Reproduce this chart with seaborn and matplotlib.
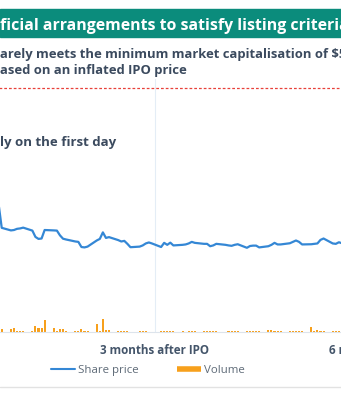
import matplotlib
matplotlib.use("Agg")
import matplotlib.pyplot as plt
from matplotlib.lines import Line2D
from matplotlib.patches import Rectangle
import seaborn as sns

# Calendar days counted from the listing day (day 0 = IPO, a Wednesday); weekends skipped
trade_days = [0, 1, 2,
              5, 6, 7, 8, 9, 12, 13, 14, 15, 16, 19, 20, 21, 22, 23,
              26, 27, 28, 29, 30, 33, 34, 35, 36, 37, 40, 41, 42, 43, 44,
              47, 48, 49, 50, 51, 54, 55, 56, 57, 58, 61, 62, 63, 64, 65,
              68, 69, 70, 71, 72, 75, 76, 77, 78, 79, 82, 83, 84, 85, 86,
              89, 90, 91, 92, 93, 96, 97, 98, 99, 100, 103, 104, 105, 106, 107,
              110, 111, 112, 113, 114, 117, 118, 119, 120, 121]

share_price = [1.050, 0.645, 0.527,
               0.514, 0.516, 0.522, 0.524, 0.528, 0.513, 0.481, 0.471, 0.473, 0.516,
               0.514, 0.513, 0.489, 0.472, 0.468,
               0.458, 0.456, 0.430, 0.428, 0.432, 0.463, 0.471, 0.504, 0.476, 0.480,
               0.465, 0.458, 0.461, 0.446, 0.429,
               0.432, 0.438, 0.448, 0.453, 0.448, 0.430, 0.451, 0.441, 0.452, 0.438,
               0.441, 0.443, 0.448, 0.456, 0.451,
               0.446, 0.446, 0.434, 0.438, 0.446, 0.441, 0.438, 0.436, 0.441, 0.444,
               0.426, 0.435, 0.437, 0.437, 0.428,
               0.434, 0.441, 0.451, 0.443, 0.443, 0.449, 0.456, 0.463, 0.456, 0.443,
               0.444, 0.446, 0.448, 0.466, 0.473,
               0.448, 0.446, 0.454, 0.449, 0.451, 0.447, 0.452, 0.449, 0.446, 0.450]

# Daily turnover, millions of shares
volume = [58.0, 1.3, 1.3,
          1.4, 2.2, 0.4, 0.4, 0.4, 0.5, 3.0, 2.2, 2.2, 6.1,
          1.9, 0.35, 1.7, 1.4, 0.5,
          0.35, 0.5, 1.4, 0.65, 0.5, 4.1, 0.65, 6.6, 1.0, 1.0,
          0.65, 0.35, 0.5, 0.35, 0.25,
          0.35, 0.35, 0.35, 0.15, 0.15, 0.35, 0.35, 0.35, 0.35, 0.35,
          0.3, 0.15, 0.75, 0.3, 0.3,
          0.35, 0.35, 0.4, 0.65, 0.4, 0.15, 0.4, 0.4, 0.4, 0.35,
          0.4, 0.4, 0.4, 0.4, 0.35,
          1.0, 1.15, 0.75, 0.5, 0.5, 0.4, 0.4, 0.4, 0.4, 0.4,
          2.7, 0.75, 1.0, 0.75, 0.5,
          0.5, 0.5, 0.4, 0.4, 0.35, 0.4, 0.45, 0.4, 0.35, 0.4]

tick_days = [52, 126.5]
tick_labels = ["3 months after IPO", "6 months after IPO"]

# Price implied by the minimum market capitalisation requirement
min_cap_price = 1.235

title_text = "ficial arrangements to satisfy listing criteria"
subtitle_lines = ["arely meets the minimum market capitalisation of $500",
                  "ased on an inflated IPO price"]
note_text = "ly on the first day"

BLUE = "#3487d5"
ORANGE = "#f7a01c"
TEAL = "#0b8c7c"
INK = "#3b4a5e"

sns.set_theme(style="white")
plt.rcParams["font.family"] = ["Open Sans", "DejaVu Sans"]

W, H = 341, 400
fig = plt.figure(figsize=(W / 100, H / 100), dpi=100)

def fx(px):
    return px / W

def fy(py):
    return 1 - py / H

# Plot area in pixels (wider than the canvas on both sides)
L, R, T, B = -20, 420, 79, 332
ax = fig.add_axes([fx(L), fy(B), (R - L) / W, (B - T) / H])
px_per_day = 3.065
x0_px = -4.4
ax.set_xlim((L - x0_px) / px_per_day, (R - x0_px) / px_per_day)
ax.set_ylim(0, 1.28)

ax2 = ax.twinx()
ax2.bar(trade_days, volume, width=0.68, color=ORANGE, linewidth=0)
ax2.set_ylim(0, 128)
ax2.set_yticks([])
for s in ax2.spines.values():
    s.set_visible(False)

sns.lineplot(x=trade_days, y=share_price, ax=ax, color=BLUE, linewidth=1.6,
             estimator=None)
ax.set_zorder(ax2.get_zorder() + 1)
ax.patch.set_visible(False)

ax.axhline(min_cap_price, color="#e8403a", linewidth=0.9, linestyle=(0, (2.2, 1.6)))

ax.set_xticks(tick_days)
ax.set_xticklabels(tick_labels, fontsize=8.4, fontweight="bold", color="#44556a")
ax.tick_params(axis="x", length=0, pad=8.5)
ax.set_yticks([])
ax.set_xlabel("")
ax.set_ylabel("")
ax.grid(axis="x", color="#e4edf6", linewidth=0.8)
ax.grid(axis="y", visible=False)
for name, s in ax.spines.items():
    s.set_visible(name == "bottom")
ax.spines["bottom"].set_color("#dde4ec")
ax.spines["bottom"].set_linewidth(0.8)

# Header band and captions
fig.add_artist(Rectangle((0, fy(37.3)), 1, 28.3 / H, transform=fig.transFigure,
                         color=TEAL, zorder=0))

# Title size chosen so that "...criteri" ends just at the right edge
renderer = fig.canvas.get_renderer()
title = fig.text(fx(0), fy(29.5), title_text[:-1], color="white", fontsize=11.0,
                 fontweight="bold", ha="left", va="baseline")
width_px = title.get_window_extent(renderer).width
title.set_fontsize(11.0 * 339.0 / width_px)
title.set_text(title_text)

fig.text(fx(0), fy(58.3), subtitle_lines[0], color=INK, fontsize=9.35,
         fontweight="bold", ha="left", va="baseline")
fig.text(fx(0), fy(74), subtitle_lines[1], color=INK, fontsize=9.35,
         fontweight="bold", ha="left", va="baseline")
fig.text(fx(0), fy(145.7), note_text, color=INK, fontsize=9.5,
         fontweight="bold", ha="left", va="baseline")

handles = [Line2D([], [], color=BLUE, linewidth=1.5),
           Line2D([], [], color=ORANGE, linewidth=4, solid_capstyle="butt")]
leg = fig.legend(handles, ["Share price", "Volume"], loc="center",
                 bbox_to_anchor=(fx(148), fy(370)), ncol=2, frameon=False,
                 fontsize=8.25, handlelength=2.1, handletextpad=0.26,
                 columnspacing=3.3, labelcolor="#5f6b78")

fig.add_artist(Line2D([0, 1], [fy(387), fy(387)], transform=fig.transFigure,
                      color="#e2e2e2", linewidth=1))

fig.savefig("out.png", dpi=100)
